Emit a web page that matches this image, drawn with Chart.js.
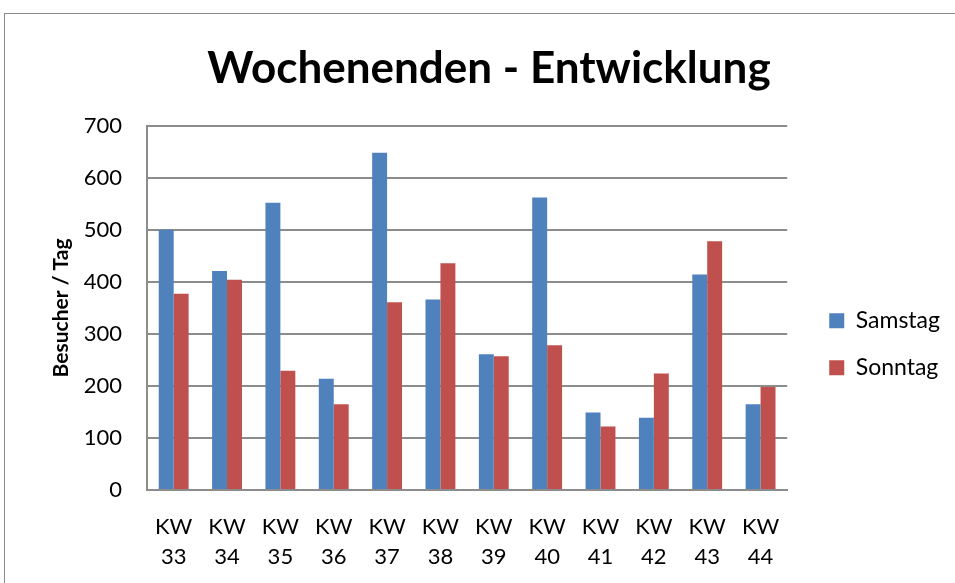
<!DOCTYPE html>
<html>
<head>
<meta charset="utf-8">
<script src="https://cdn.jsdelivr.net/npm/chart.js@4.4.1/dist/chart.umd.min.js"></script>
<style>
  body { margin: 0; background: #fff; }
  #frame { position: absolute; left: 4px; top: 13px; width: 1000px; height: 600px; border: 1px solid #8a8a8a; }
  #wrap { position: absolute; left: 0; top: 0; width: 955px; height: 583px; }
</style>
</head>
<body>
<div id="frame"></div>
<div id="wrap"><canvas id="weekendChart" width="955" height="583"></canvas></div>
<script>
const weeks = ['33', '34', '35', '36', '37', '38', '39', '40', '41', '42', '43', '44'];
const samstag = [500, 421, 552, 214, 648, 366, 261, 562, 149, 139, 414, 165];
const sonntag = [377, 404, 229, 165, 361, 436, 257, 278, 122, 224, 478, 198];
const yTicks = [0, 100, 200, 300, 400, 500, 600, 700];

const fontFamily = 'Lato, "Open Sans", sans-serif';
const gridColor = '#8c8c8c';

const ctx = document.getElementById('weekendChart').getContext('2d');
new Chart(ctx, {
  type: 'bar',
  data: {
    labels: weeks.map(w => ['KW', w]),
    datasets: [
      { label: 'Samstag', data: samstag, backgroundColor: '#4F81BD' },
      { label: 'Sonntag', data: sonntag, backgroundColor: '#C0504D' }
    ]
  },
  options: {
    responsive: false,
    animation: false,
    layout: { padding: { top: 18, left: 28, right: 5, bottom: 0 } },
    datasets: { bar: { categoryPercentage: 0.56, barPercentage: 1.0 } },
    plugins: {
      title: {
        display: true,
        text: 'Wochenenden - Entwicklung',
        color: '#000',
        font: { family: fontFamily, size: 44, weight: 'bold' },
        padding: { top: 24, bottom: 31 }
      },
      legend: {
        position: 'right',
        title: { display: true, text: ' ', font: { size: 8 }, padding: 39 },
        labels: {
          color: '#000',
          font: { family: fontFamily, size: 23 },
          boxWidth: 15,
          boxHeight: 15,
          padding: 24
        }
      },
      tooltip: { enabled: false }
    },
    scales: {
      x: {
        grid: { display: false, drawTicks: false },
        border: { color: gridColor, width: 2 },
        ticks: {
          color: '#000',
          font: { family: fontFamily, size: 22, lineHeight: 1.36 },
          padding: 22,
          maxRotation: 0
        },
        afterFit: s => { s.height = 93; }
      },
      y: {
        min: 0,
        max: 700,
        afterBuildTicks: s => { s.ticks = yTicks.map(v => ({ value: v })); },
        grid: { color: gridColor, lineWidth: 2, drawTicks: false },
        border: { color: gridColor, width: 2 },
        ticks: {
          color: '#000',
          font: { family: fontFamily, size: 22 },
          padding: 25
        },
        title: {
          display: true,
          text: 'Besucher / Tag',
          color: '#000',
          font: { family: fontFamily, size: 21, weight: 'bold' },
          padding: { top: 21, bottom: 0 }
        },
        afterFit: s => { s.width = 119; }
      },
      // empty spacer between plot and legend
      spacer: {
        type: 'linear',
        position: 'right',
        grid: { display: false },
        border: { display: false },
        ticks: { display: false },
        afterFit: s => { s.width = 18; }
      }
    }
  }
});
</script>
</body>
</html>
